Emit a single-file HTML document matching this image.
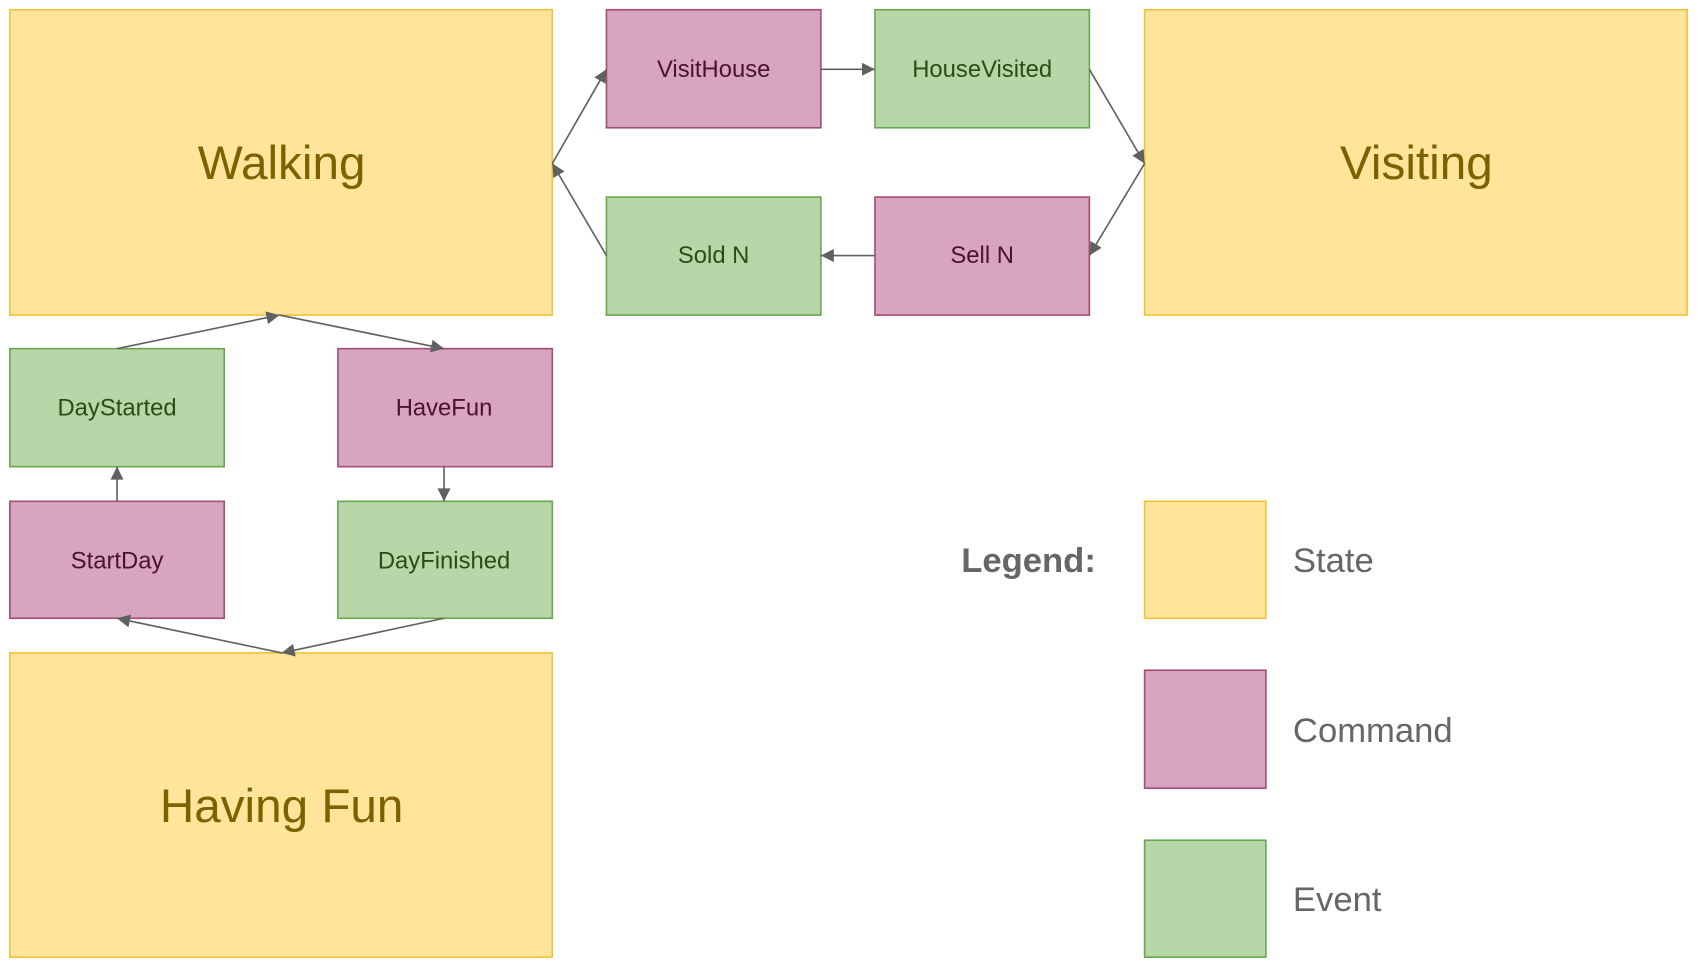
<!DOCTYPE html>
<html><head><meta charset="utf-8"><style>
html,body{margin:0;padding:0;background:#fff;}
svg{display:block;}
text{font-family:"Liberation Sans",sans-serif;text-anchor:middle;dominant-baseline:central;}
</style></head><body>
<svg width="1698" height="968" viewBox="0 0 1568 894" xmlns="http://www.w3.org/2000/svg">
<defs>
<marker id="a" viewBox="0 0 10 10" refX="10" refY="5" markerWidth="8" markerHeight="8" orient="auto" markerUnits="userSpaceOnUse">
<path d="M0,0 L10,5 L0,10 z" fill="#606060"/></marker>
<marker id="b" viewBox="0 0 10 10" refX="10" refY="5" markerWidth="16" markerHeight="12" orient="auto" markerUnits="userSpaceOnUse">
<path d="M0,0 L10,5 L0,10 z" fill="#606060"/></marker>
</defs>
<g stroke-width="1.5">
<rect x="9" y="9" width="501" height="282" fill="#fee599" stroke="#f2c23d"/>
<rect x="1057" y="9" width="501" height="282" fill="#fee599" stroke="#f2c23d"/>
<rect x="9" y="603" width="501" height="281" fill="#fee599" stroke="#f2c23d"/>
<rect x="560" y="9" width="198" height="109" fill="#d7a5be" stroke="#a24d7a"/>
<rect x="808" y="9" width="198" height="109" fill="#b7d7a8" stroke="#6aa84f"/>
<rect x="560" y="182" width="198" height="109" fill="#b7d7a8" stroke="#6aa84f"/>
<rect x="808" y="182" width="198" height="109" fill="#d7a5be" stroke="#a24d7a"/>
<rect x="9" y="322" width="198" height="109" fill="#b7d7a8" stroke="#6aa84f"/>
<rect x="312" y="322" width="198" height="109" fill="#d7a5be" stroke="#a24d7a"/>
<rect x="9" y="463" width="198" height="108" fill="#d7a5be" stroke="#a24d7a"/>
<rect x="312" y="463" width="198" height="108" fill="#b7d7a8" stroke="#6aa84f"/>
<rect x="1057" y="463" width="112" height="108" fill="#fee599" stroke="#f2c23d"/>
<rect x="1057" y="619" width="112" height="109" fill="#d7a5be" stroke="#a24d7a"/>
<rect x="1057" y="776" width="112" height="108" fill="#b7d7a8" stroke="#6aa84f"/>
</g>
<g stroke="#606060" stroke-width="1.5" fill="none" marker-end="url(#b)">
<line x1="510" y1="151" x2="560" y2="64"/>
<line x1="758" y1="64" x2="808" y2="64"/>
<line x1="1006" y1="64" x2="1057" y2="151"/>
<line x1="1057" y1="151" x2="1006" y2="236"/>
<line x1="808" y1="236" x2="758" y2="236"/>
<line x1="560" y1="236" x2="510" y2="151"/>
<line x1="108" y1="322" x2="258" y2="291"/>
<line x1="258" y1="291" x2="410" y2="322"/>
<line x1="410" y1="431" x2="410" y2="463"/>
<line x1="410" y1="571" x2="260" y2="603"/>
<line x1="260" y1="603" x2="108" y2="571"/>
<line x1="108" y1="463" x2="108" y2="431"/>
</g>
<g fill="#7f6000" font-size="44">
<text x="260" y="151">Walking</text>
<text x="1308" y="151">Visiting</text>
<text x="260" y="745">Having Fun</text>
</g>
<g font-size="22">
<text x="659" y="64" fill="#4c1130">VisitHouse</text>
<text x="907" y="64" fill="#274e13">HouseVisited</text>
<text x="659" y="236" fill="#274e13">Sold N</text>
<text x="907" y="236" fill="#4c1130">Sell N</text>
<text x="108" y="377" fill="#274e13">DayStarted</text>
<text x="410" y="377" fill="#4c1130">HaveFun</text>
<text x="108" y="518" fill="#4c1130">StartDay</text>
<text x="410" y="518" fill="#274e13">DayFinished</text>
</g>
<g fill="#666" font-size="32">
<text x="1012" y="518" font-weight="bold" style="text-anchor:end">Legend:</text>
<text x="1194" y="518" style="text-anchor:start">State</text>
<text x="1194" y="675" style="text-anchor:start">Command</text>
<text x="1194" y="831" style="text-anchor:start">Event</text>
</g>
</svg>
</body></html>
